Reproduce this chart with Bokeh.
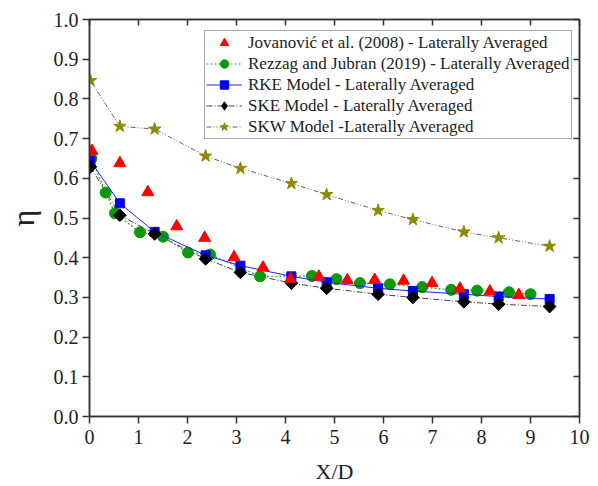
from bokeh.plotting import figure
from bokeh.models import (LinearAxis, FixedTicker, NumeralTickFormatter, Legend, LegendItem)
from bokeh.embed import file_html
from bokeh.resources import INLINE

# Jovanovic et al. (2008)
jov_x = [0.05, 0.62, 1.19, 1.78, 2.35, 2.95, 3.54, 4.10, 4.68, 5.26, 5.82, 6.41, 6.99, 7.56, 8.17, 8.76]
jov_y = [0.669, 0.638, 0.565, 0.479, 0.450, 0.401, 0.375, 0.346, 0.352, 0.343, 0.344, 0.342, 0.336, 0.322, 0.315, 0.306]

# Rezzag and Jubran (2019)
rez_x = [0.04, 0.33, 0.52, 1.03, 1.50, 2.01, 2.46, 3.48, 4.54, 5.04, 5.52, 6.13, 6.79, 7.38, 7.91, 8.56, 9.00]
rez_y = [0.650, 0.564, 0.512, 0.464, 0.453, 0.413, 0.408, 0.353, 0.354, 0.346, 0.336, 0.333, 0.326, 0.319, 0.317, 0.313, 0.308]

# Model stations
mod_x = [0.02, 0.62, 1.33, 2.37, 3.08, 4.12, 4.84, 5.89, 6.60, 7.64, 8.35, 9.39]
rke_y = [0.644, 0.537, 0.465, 0.406, 0.380, 0.353, 0.338, 0.323, 0.316, 0.308, 0.302, 0.296]
ske_y = [0.629, 0.507, 0.460, 0.397, 0.363, 0.336, 0.323, 0.308, 0.300, 0.289, 0.283, 0.277]
skw_y = [0.846, 0.731, 0.724, 0.656, 0.625, 0.587, 0.559, 0.519, 0.496, 0.465, 0.450, 0.429]

x_ticks = [0, 1, 2, 3, 4, 5, 6, 7, 8, 9, 10]
y_ticks = [0.0, 0.1, 0.2, 0.3, 0.4, 0.5, 0.6, 0.7, 0.8, 0.9, 1.0]

labels = ["Jovanović et al. (2008) - Laterally Averaged",
          "Rezzag and Jubran (2019) - Laterally Averaged",
          "RKE Model - Laterally Averaged",
          "SKE Model - Laterally Averaged",
          "SKW Model -Laterally Averaged"]

FONT = "Liberation Serif"
AX = "#333333"
NAN = float("nan")

p = figure(width=598, height=486, x_range=(0, 10), y_range=(0, 1),
           output_backend="svg", toolbar_location=None,
           min_border_left=89, min_border_right=19, min_border_top=19, min_border_bottom=70)
p.grid.visible = False
p.outline_line_color = AX
p.outline_line_width = 1.5

p.xaxis.ticker = FixedTicker(ticks=x_ticks)
p.yaxis.ticker = FixedTicker(ticks=y_ticks)
p.yaxis.formatter = NumeralTickFormatter(format="0.0")
for ax in (p.xaxis[0], p.yaxis[0]):
    ax.major_tick_in = 0
    ax.major_tick_out = 7
    ax.minor_tick_out = 0
    ax.minor_tick_in = 0
    ax.axis_line_color = AX
    ax.axis_line_width = 1.5
    ax.major_tick_line_color = AX
    ax.major_tick_line_width = 1.5
    ax.major_label_text_font = FONT
    ax.major_label_text_font_size = "20px"
    ax.major_label_text_color = "#222222"
    ax.axis_label_text_font = FONT
    ax.axis_label_text_font_style = "normal"
    ax.axis_label_text_color = "#222222"
p.xaxis.axis_label = "X/D"
p.xaxis.axis_label_text_font_size = "22px"
p.xaxis.axis_label_standoff = 12
p.yaxis.axis_label = "η"
p.yaxis.axis_label_text_font_size = "32px"
p.yaxis.axis_label_standoff = 10
p.xaxis.major_label_standoff = 6
p.yaxis.major_label_standoff = 4

top = LinearAxis(ticker=FixedTicker(ticks=x_ticks),
                 major_label_overrides={t: "" for t in x_ticks},
                 major_tick_in=6, major_tick_out=0, minor_tick_in=0, minor_tick_out=0,
                 axis_line_color=AX, axis_line_width=1.5, major_tick_line_color=AX,
                 major_tick_line_width=1.5, major_label_standoff=0)
right = LinearAxis(ticker=FixedTicker(ticks=y_ticks),
                   major_label_overrides={t: "" for t in y_ticks},
                   major_tick_in=6, major_tick_out=0, minor_tick_in=0, minor_tick_out=0,
                   axis_line_color=AX, axis_line_width=1.5, major_tick_line_color=AX,
                   major_tick_line_width=1.5, major_label_standoff=0)
p.add_layout(top, "above")
p.add_layout(right, "right")

# SKW
l_skw = p.line(mod_x, skw_y, line_color="#666666", line_width=1, line_dash="5 2 1 2 1 2")
s_skw = p.scatter(mod_x, skw_y, marker="star", size=13, fill_color="#8B8B00", line_color="#8B8B00")
# SKE
l_ske = p.line(mod_x, ske_y, line_color="#444444", line_width=1, line_dash="6 2 1 2")
# Rezzag
l_rez = p.line(rez_x, rez_y, line_color="#22AA22", line_width=1.2, line_dash="2 2")
s_rez = p.scatter(rez_x, rez_y, marker="circle", size=11, fill_color="#0A990A", line_color="#0A990A")
# RKE
l_rke = p.line(mod_x, rke_y, line_color="#2222FF", line_width=1)
s_rke = p.scatter(mod_x, rke_y, marker="square", size=9, fill_color="#0000FF", line_color="#0000FF")
s_ske = p.scatter(mod_x, ske_y, marker="square", angle=0.785398, size=9,
                  fill_color="#000000", line_color="#000000")
# legend-only diamond glyph (not drawn on the plot)
s_ske_leg = p.scatter(x=[NAN], y=[NAN], marker="diamond", size=15,
                      fill_color="#000000", line_color="#000000")
# Jovanovic
s_jov = p.scatter(jov_x, jov_y, marker="triangle", size=12, fill_color="#FF0000", line_color="#FF0000")

items = [LegendItem(label=labels[0], renderers=[s_jov]),
         LegendItem(label=labels[1], renderers=[l_rez, s_rez]),
         LegendItem(label=labels[2], renderers=[l_rke, s_rke]),
         LegendItem(label=labels[3], renderers=[l_ske, s_ske_leg]),
         LegendItem(label=labels[4], renderers=[l_skw, s_skw])]
leg = Legend(items=items, location=(115, 277), label_text_font=FONT, label_text_font_size="17px",
             label_text_color="#222222", glyph_width=36, glyph_height=21, label_height=21,
             label_standoff=6, spacing=0, padding=1, margin=0,
             border_line_color="#555555", border_line_width=1, background_fill_alpha=1)
p.add_layout(leg, "center")

open("out.html", "w").write(file_html(p, INLINE))
